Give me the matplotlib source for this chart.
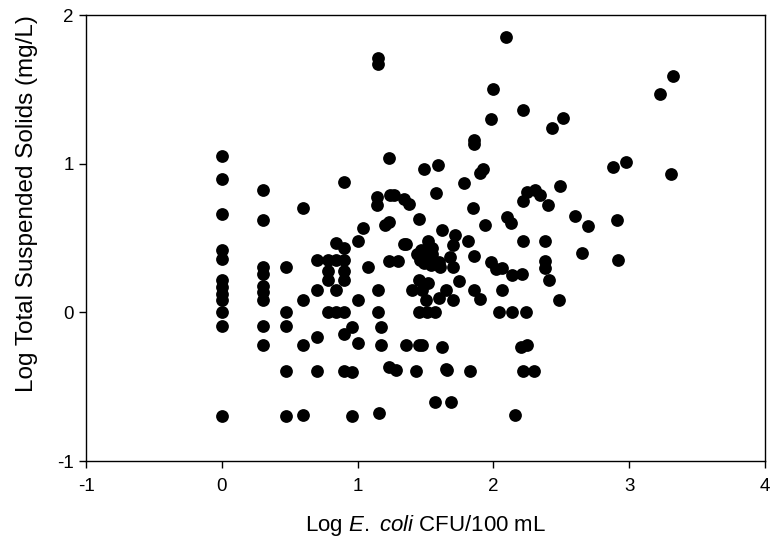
import matplotlib
matplotlib.use('Agg')
import matplotlib.pyplot as plt

plt.rcParams['font.family'] = ['Liberation Sans', 'DejaVu Sans']
plt.rcParams['axes.unicode_minus'] = False
plt.rcParams['mathtext.fontset'] = 'custom'
plt.rcParams['mathtext.rm'] = 'Liberation Sans'
plt.rcParams['mathtext.it'] = 'Liberation Sans:italic'

# log E. coli (CFU/100 mL)
log_ecoli = [
    0, 0, 0, 0, 0, 0, 0, 0, 0, 0, 0, 0,
    0.30, 0.30, 0.30, 0.30, 0.30, 0.30, 0.30, 0.30, 0.30,
    0.475, 0.475, 0.475, 0.475, 0.475,
    0.60, 0.60, 0.60, 0.60,
    0.70, 0.70, 0.70, 0.70,
    0.78, 0.78, 0.78, 0.78,
    0.84, 0.84, 0.84, 0.84,
    0.90, 0.90, 0.90, 0.90, 0.90, 0.90, 0.90, 0.90,
    0.96, 0.96, 0.96,
    1.00, 1.00, 1.00,
    1.04, 1.08,
    1.15, 1.15, 1.14, 1.14, 1.15, 1.15, 1.16,
    1.17, 1.17, 1.20,
    1.23, 1.24, 1.23, 1.23, 1.23, 1.27, 1.28, 1.30,
    1.34, 1.34, 1.36, 1.36, 1.38, 1.40, 1.43, 1.44,
    1.45, 1.45, 1.45, 1.45, 1.46, 1.47, 1.475, 1.475,
    1.49, 1.49, 1.50, 1.50, 1.52, 1.52, 1.51, 1.54, 1.55, 1.55,
    1.57, 1.57, 1.58, 1.59, 1.60, 1.60, 1.61, 1.62, 1.62,
    1.65, 1.65, 1.66, 1.68, 1.69, 1.70, 1.70, 1.70, 1.72, 1.75,
    1.78, 1.81, 1.83, 1.85, 1.86, 1.86, 1.86, 1.86,
    1.90, 1.90, 1.92, 1.94, 1.98, 1.98, 2.00, 2.02, 2.04, 2.06, 2.06,
    2.09, 2.10, 2.13, 2.14, 2.14, 2.16, 2.20, 2.21,
    2.22, 2.22, 2.22, 2.24, 2.22, 2.25, 2.25, 2.30, 2.31, 2.34,
    2.38, 2.38, 2.38, 2.40, 2.41, 2.43, 2.48, 2.49, 2.51,
    2.60, 2.65, 2.70, 2.88, 2.91, 2.92, 2.98, 3.23, 3.31, 3.32,
]

# log total suspended solids (mg/L)
log_tss = [
    1.05, 0.90, 0.66, 0.42, 0.36, 0.215, 0.17, 0.125, 0.085, 0.0, -0.09, -0.70,
    0.825, 0.62, 0.305, 0.26, 0.18, 0.137, 0.085, -0.09, -0.217,
    0.305, 0.0, -0.09, -0.395, -0.70,
    0.70, 0.085, -0.217, -0.69,
    0.35, 0.148, -0.166, -0.395,
    0.35, 0.28, 0.215, 0.0,
    0.47, 0.35, 0.148, 0.0,
    0.88, 0.435, 0.35, 0.28, 0.22, 0.0, -0.145, -0.395,
    -0.10, -0.40, -0.70,
    0.48, 0.08, -0.206,
    0.57, 0.305,
    1.71, 1.67, 0.775, 0.72, 0.148, 0.0, -0.68,
    -0.10, -0.22, 0.585,
    1.04, 0.79, 0.61, 0.345, -0.37, 0.79, -0.39, 0.345,
    0.765, 0.46, 0.457, -0.22, 0.73, 0.15, -0.395, 0.395,
    0.63, 0.215, 0.0, -0.22, 0.35, 0.42, 0.15, -0.22,
    0.966, 0.33, 0.37, 0.08, 0.48, 0.20, 0.0, 0.32, 0.43, 0.395,
    0.0, -0.60, 0.80, 0.99, 0.34, 0.10, 0.305, 0.556, -0.235,
    0.15, -0.38, -0.39, 0.37, -0.60, 0.45, 0.305, 0.08, 0.52, 0.21,
    0.87, 0.48, -0.395, 0.70, 1.16, 1.13, 0.38, 0.15,
    0.94, 0.09, 0.966, 0.59, 1.30, 0.34, 1.50, 0.29, 0.0, 0.30, 0.15,
    1.85, 0.64, 0.60, 0.25, 0.0, -0.69, -0.23, 0.255,
    1.36, 0.75, 0.48, 0.0, -0.395, 0.81, -0.22, -0.395, 0.82, 0.79,
    0.48, 0.345, 0.30, 0.72, 0.215, 1.24, 0.08, 0.85, 1.31,
    0.65, 0.40, 0.58, 0.98, 0.62, 0.354, 1.015, 1.47, 0.93, 1.59,
]

fig = plt.figure(figsize=(7.7, 5.39), dpi=100)
ax = fig.add_axes([0.1117, 0.1447, 0.8818, 0.8273])

ax.plot(log_ecoli, log_tss, linestyle='none', marker='o', markersize=9.2,
        color='black', markeredgewidth=0)

ax.set_xlim(-1, 4)
ax.set_ylim(-1, 2)
ax.set_xticks([-1, 0, 1, 2, 3, 4])
ax.set_yticks([-1, 0, 1, 2])
ax.tick_params(direction='out', length=5, width=1, labelsize=13.5)
ax.tick_params(axis='x', pad=7)
ax.tick_params(axis='y', pad=4)

ax.set_xlabel(r'Log $\mathit{E.}$ $\mathit{coli}$ CFU/100 mL', fontsize=16, labelpad=13)
ax.set_ylabel('Log Total Suspended Solids (mg/L)', fontsize=17.5)
ax.yaxis.set_label_coords(-0.07, 0.578)

for s in ax.spines.values():
    s.set_linewidth(1)

fig.savefig('out.png', dpi=100)
